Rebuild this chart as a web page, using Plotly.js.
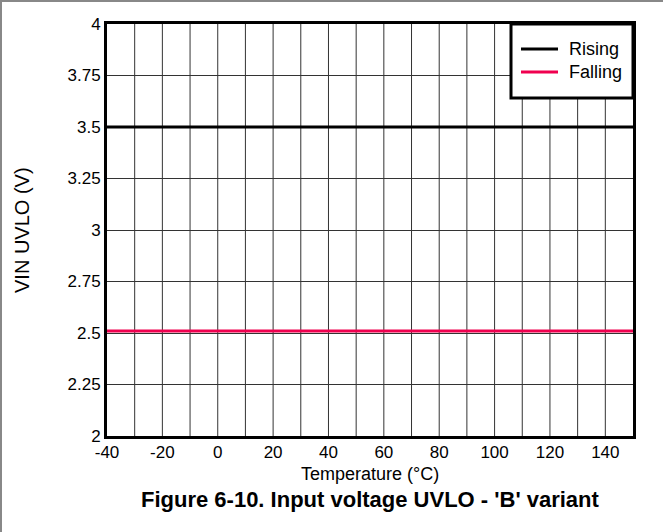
<!DOCTYPE html>
<html>
<head>
<meta charset="utf-8">
<script src="https://cdn.plot.ly/plotly-3.0.1.min.js"></script>
<style>
html,body{margin:0;padding:0;background:#fff;}
#frame{position:absolute;left:0;top:0;width:663px;height:532px;box-sizing:border-box;border-top:2px solid #888;border-left:2px solid #888;}
#chart{position:absolute;left:0;top:0;width:663px;height:532px;}
</style>
</head>
<body>
<div id="chart"></div>
<div id="frame"></div>
<script>
const temperature = [-40, -20, 0, 25, 50, 75, 100, 125, 150];
const risingV = [3.5, 3.5, 3.5, 3.5, 3.5, 3.5, 3.5, 3.5, 3.5];
const fallingV = [2.51, 2.51, 2.51, 2.51, 2.51, 2.51, 2.51, 2.51, 2.51];
const seriesNames = ["Rising", "Falling"];
const seriesColors = ["#000000", "#f0004f"];
const xTicks = [-40, -20, 0, 20, 40, 60, 80, 100, 120, 140];
const yTicks = [2, 2.25, 2.5, 2.75, 3, 3.25, 3.5, 3.75, 4];
const yTickText = ["2", "2.25", "2.5", "2.75", "3", "3.25", "3.5", "3.75", "4"];
const xTitle = "Temperature (°C)";
const yTitle = "VIN UVLO (V)";
const caption = "Figure 6-10. Input voltage UVLO - 'B' variant";

const F = "Liberation Sans, Arial, sans-serif";
const PW = 526, PH = 412; // plot area size in px
const traces = [
  {x: temperature, y: risingV, name: seriesNames[0], mode: "lines", line: {color: seriesColors[0], width: 3}, showlegend: false},
  {x: temperature, y: fallingV, name: seriesNames[1], mode: "lines", line: {color: seriesColors[1], width: 3}, showlegend: false}
];

// vertical grid lines every 10
const vgrid = [];
for (let v = -30; v < 150; v += 10) vgrid.push(v);
const shapes = vgrid.map(v => ({type: "line", xref: "x", yref: "paper", x0: v, x1: v, y0: 0, y1: 1, line: {color: "#333", width: 1}, layer: "below"}));

// legend box (paper coords)
const legX0 = 1 - 122/PW, legY0 = 1 - 74/PH;
shapes.push({type: "rect", xref: "paper", yref: "paper", x0: legX0, x1: 1, y0: legY0, y1: 1, fillcolor: "#fff", line: {color: "#000", width: 3}, layer: "above"});
const legLine = [[1 - 112/PW, 1 - 75/PW, 1 - 25/PH], [1 - 112/PW, 1 - 75/PW, 1 - 48/PH]];
legLine.forEach((l, i) => shapes.push({type: "line", xref: "paper", yref: "paper", x0: l[0], x1: l[1], y0: l[2], y1: l[2], line: {color: seriesColors[i], width: 3}, layer: "above"}));

const annotations = [
  {xref: "paper", yref: "paper", x: 1 - 66/PW, y: 1 - 25/PH, xanchor: "left", yanchor: "middle", text: seriesNames[0], showarrow: false, font: {family: F, size: 18, color: "#000"}},
  {xref: "paper", yref: "paper", x: 1 - 66/PW, y: 1 - 48/PH, xanchor: "left", yanchor: "middle", text: seriesNames[1], showarrow: false, font: {family: F, size: 18, color: "#000"}},
  {xref: "paper", yref: "paper", x: 0.5, y: -(474 - 436)/PH, xanchor: "center", yanchor: "middle", text: xTitle, showarrow: false, font: {family: F, size: 18, color: "#000"}},
  {xref: "paper", yref: "paper", x: -(107 - 22)/PW, y: 1 - (230 - 24)/PH, xanchor: "center", yanchor: "middle", textangle: -90, text: yTitle, showarrow: false, font: {family: F, size: 20, color: "#000"}},
  {xref: "paper", yref: "paper", x: 0.5, y: -(499 - 436)/PH, xanchor: "center", yanchor: "middle", text: "<b>" + caption + "</b>", showarrow: false, font: {family: F, size: 22, color: "#000"}}
];

const layout = {
  width: 663, height: 532,
  margin: {l: 107, r: 30, t: 24, b: 96},
  paper_bgcolor: "#fff", plot_bgcolor: "#fff",
  font: {family: F, size: 17, color: "#000"},
  xaxis: {
    range: [-40, 150], tickvals: xTicks, ticktext: xTicks.map(String),
    showgrid: false, zeroline: false, showline: true, mirror: true, linecolor: "#000", linewidth: 3,
    ticks: "", tickfont: {family: F, size: 17}, ticklabelstandoff: -1
  },
  yaxis: {
    range: [2, 4], tickvals: yTicks, ticktext: yTickText,
    showgrid: true, gridcolor: "#333", gridwidth: 1, zeroline: false,
    showline: true, mirror: true, linecolor: "#000", linewidth: 3,
    ticks: "", tickfont: {family: F, size: 17}
  },
  showlegend: false,
  shapes: shapes,
  annotations: annotations
};
Plotly.newPlot("chart", traces, layout, {displayModeBar: false, staticPlot: true});
</script>
</body>
</html>
